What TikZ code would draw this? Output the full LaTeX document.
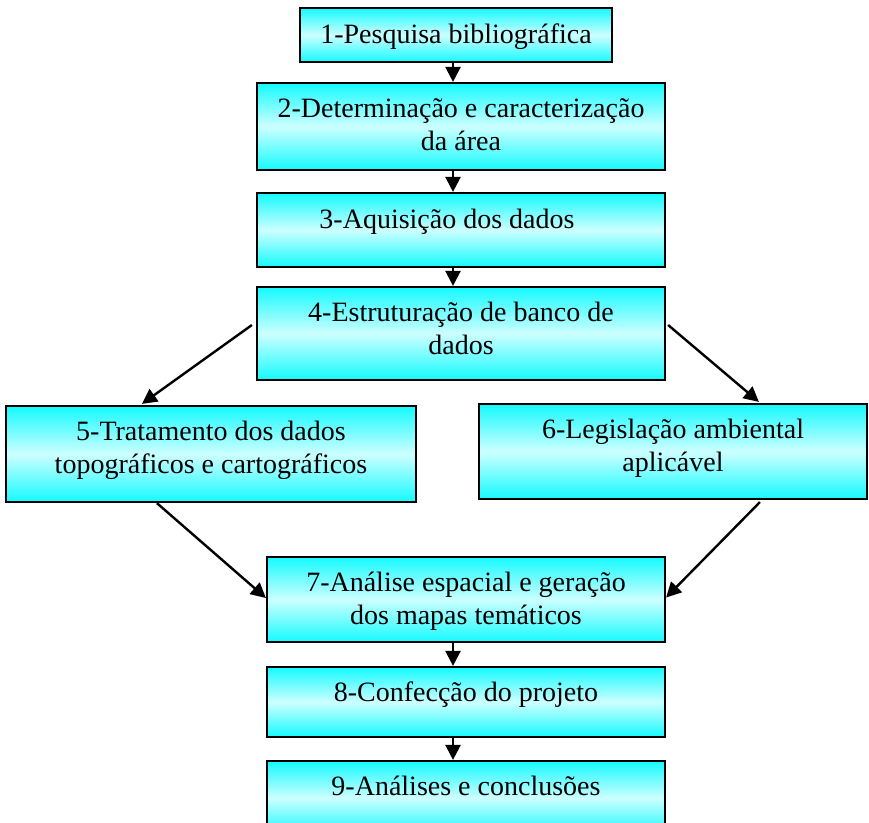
\documentclass[tikz,border=0pt]{standalone}
\usepackage{fontspec}
\setmainfont{Liberation Serif}
\usetikzlibrary{arrows.meta,calc}
\definecolor{cyanedge}{RGB}{20,250,255}
\definecolor{cyanmid}{RGB}{205,255,255}
\begin{document}
\begin{tikzpicture}[x=1pt,y=-1pt,
  box/.style={draw=black, line width=2.2pt, rectangle, inner sep=0pt,
    top color=cyanedge, bottom color=cyanedge, middle color=cyanmid},
  lbl/.style={anchor=base, align=center, inner sep=0pt,
    font=\fontsize{28}{33}\selectfont},
  arr/.style={line width=2.4pt, -{Triangle[width=15pt,length=15pt]}}
]
\useasboundingbox (0,0) rectangle (869,822);

\node[box, minimum width=312pt, minimum height=54pt] (b1) at (456,35) {};
\node[box, minimum width=408pt, minimum height=87pt] (b2) at (461,126.5) {};
\node[box, minimum width=408pt, minimum height=74pt] (b3) at (461,230) {};
\node[box, minimum width=408pt, minimum height=93pt] (b4) at (461,333.5) {};
\node[box, minimum width=410pt, minimum height=96pt] (b5) at (211,454) {};
\node[box, minimum width=388pt, minimum height=95pt] (b6) at (673,451.5) {};
\node[box, minimum width=398pt, minimum height=85pt] (b7) at (466,599.5) {};
\node[box, minimum width=398pt, minimum height=70pt] (b8) at (466,702) {};
\node[box, minimum width=398pt, minimum height=74pt] (b9) at (466,798) {};

\node[lbl] (t1) at ([yshift=-37pt]b1.north) {1-Pesquisa bibliográfica};
\node[lbl] (t2) at ([yshift=-69pt]b2.north) {2-Determinação e caracterização\\da área};
\node[lbl] (t3) at ([yshift=-37pt,xshift=-14pt]b3.north) {3-Aquisição dos dados};
\node[lbl] (t4) at ([yshift=-69pt]b4.north) {4-Estruturação de banco de\\dados};
\node[lbl] (t5) at ([yshift=-69pt]b5.north) {5-Tratamento dos dados\\topográficos e cartográficos};
\node[lbl] (t6) at ([yshift=-69pt]b6.north) {6-Legislação ambiental\\aplicável};
\node[lbl] (t7) at ([yshift=-69pt]b7.north) {7-Análise espacial e geração\\dos mapas temáticos};
\node[lbl] (t8) at ([yshift=-36pt]b8.north) {8-Confecção do projeto};
\node[lbl] (t9) at ([yshift=-36pt]b9.north) {9-Análises e conclusões};

\coordinate (ax) at (453,0);
\draw[arr] (b1.south -| ax) -- (b2.north -| ax);
\draw[arr] (b2.south -| ax) -- (b3.north -| ax);
\draw[arr] (b3.south -| ax) -- (b4.north -| ax);
\draw[arr] (b7.south -| ax) -- (b8.north -| ax);
\draw[arr] (b8.south -| ax) -- (b9.north -| ax);

\draw[arr] ([shift={(-4,-8.5)}]b4.west) -- ([xshift=137pt,yshift=1pt]b5.north west);
\draw[arr] ([shift={(2,-8.5)}]b4.east) -- ([xshift=281pt,yshift=1pt]b6.north west);
\draw[arr] ([xshift=152pt]b5.south west) -- ([yshift=1.5pt]b7.west);
\draw[arr] ([xshift=282pt,yshift=-2pt]b6.south west) -- ([yshift=2pt]b7.east);
\end{tikzpicture}
\end{document}
